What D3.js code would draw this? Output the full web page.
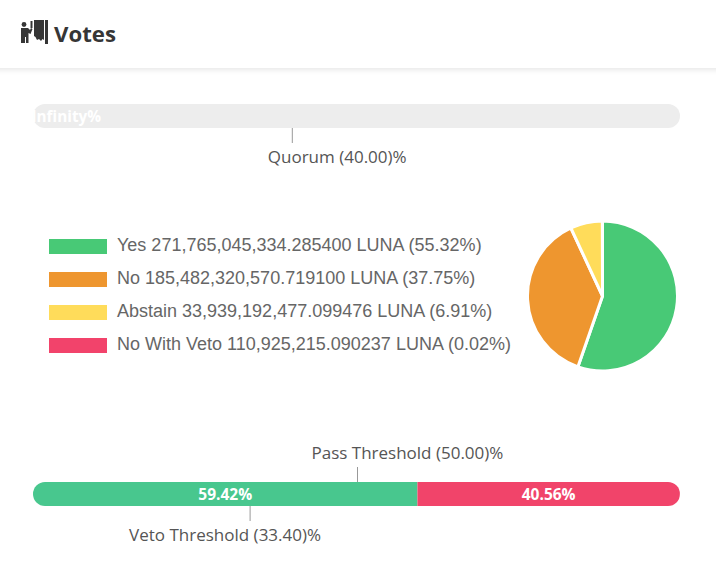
<!DOCTYPE html>
<html><head><meta charset="utf-8">
<script src="https://cdn.jsdelivr.net/npm/d3@7"></script>
<style>html,body{margin:0;padding:0;background:#fff;overflow:hidden}svg{display:block}</style>
</head><body><svg id="c" width="716" height="563"></svg>
<script>
const voteLabels = ["Yes 271,765,045,334.285400 LUNA (55.32%)","No 185,482,320,570.719100 LUNA (37.75%)","Abstain 33,939,192,477.099476 LUNA (6.91%)","No With Veto 110,925,215.090237 LUNA (0.02%)"];
const voteValues = [271765045334.2854,185482320570.7191,33939192477.099476,110925215.090237];
const voteColors = ["#48c976","#ee962f","#ffdc5a","#f2436b"];
const barValues = [59.42,40.56];
const barLabels = ["59.42%","40.56%"];
const barColors = ["#48c78e","#f1446a"];
const quorum = 40, pass = 50, veto = 33.4;

const svg = d3.select("#c");
const uiFont = "'Open Sans', Lato, sans-serif";
const defs = svg.append("defs");
const f = defs.append("filter").attr("id","sh").attr("x","-5%").attr("y","-20%").attr("width","110%").attr("height","150%");
f.append("feDropShadow").attr("dx",0).attr("dy",1).attr("stdDeviation",3).attr("flood-color","#000").attr("flood-opacity",.12);

svg.append("rect").attr("x",-10).attr("y",-10).attr("width",736).attr("height",78).attr("fill","#fff").attr("filter","url(#sh)");

// header icon
const ic = svg.append("g").attr("fill","#363636");
ic.append("circle").attr("cx",24).attr("cy",24.5).attr("r",2.4);
ic.append("path").attr("d","M21 28h7l2 2 1-2 1.5 1-2 5-2-1v10h-2.5v-6h-1v6h-2.5h-1.5z");
ic.append("rect").attr("x",30.5).attr("y",21).attr("width",2).attr("height",7);
ic.append("path").attr("d","M34 20h10v20l-1.5-1-1.5 2-2-2-2 1-1.5-3-1.5-1z");
ic.append("rect").attr("x",45).attr("y",20).attr("width",3).attr("height",24);
svg.append("text").attr("x",54).attr("y",41.5).attr("font-family",uiFont).attr("font-weight",700).attr("font-size",22.2).attr("fill","#363636").text("Votes");

const x = d3.scaleLinear().domain([0,100]).range([33,680]);
const barH = 24;

function clip(id,y){
  defs.append("clipPath").attr("id",id).append("rect").attr("x",x(0)).attr("y",y).attr("width",x(100)-x(0)).attr("height",barH).attr("rx",12);
}
clip("q",104); clip("b",482);
svg.append("rect").attr("x",x(0)).attr("y",104).attr("width",x(100)-x(0)).attr("height",barH).attr("rx",12).attr("fill","#ededed");
svg.append("text").attr("x",x(0)-1.5).attr("y",122).attr("font-family",uiFont).attr("font-weight",700).attr("font-size",15.3).attr("fill","#fff").text("Infinity%");

const labelStyle = s => s.attr("font-family",uiFont).attr("font-size",17).attr("fill","#555");
svg.append("line").attr("x1",x(quorum)+.5).attr("x2",x(quorum)+.5).attr("y1",128).attr("y2",143).attr("stroke","#999");
svg.append("text").attr("x",x(quorum)-24).attr("y",163).call(labelStyle).text(`Quorum (${quorum.toFixed(2)})%`);

// legend
const leg = svg.append("g").selectAll("g").data(voteLabels).join("g").attr("transform",(d,i)=>`translate(49,${239+i*33})`);
leg.append("rect").attr("width",58).attr("height",15).attr("fill",(d,i)=>voteColors[i]);
leg.append("text").attr("x",68).attr("y",12).attr("font-family","'Liberation Sans',Arial,sans-serif").attr("font-size",18).attr("fill","#666").text(d=>d);

// pie
const pie = d3.pie().sort(null)(voteValues);
const arc = d3.arc().innerRadius(0).outerRadius(75);
svg.append("g").attr("transform","translate(602.5,296)").selectAll("path").data(pie).join("path")
  .attr("d",arc).attr("fill",(d,i)=>voteColors[i]).attr("stroke","#fff").attr("stroke-width",3);

// result bar
svg.append("text").attr("x",x(pass)-45).attr("y",459).call(labelStyle).text(`Pass Threshold (${pass.toFixed(2)})%`);
svg.append("line").attr("x1",x(pass)+1).attr("x2",x(pass)+1).attr("y1",467).attr("y2",482).attr("stroke","#999");
let acc = 0;
const segs = barValues.map((v,i)=>{const s={v,i,a:acc};acc+=v;return s;});
const g = svg.append("g").attr("clip-path","url(#b)");
g.selectAll("rect").data(segs).join("rect").attr("x",d=>x(d.a)).attr("y",482).attr("width",d=>x(d.a+d.v)-x(d.a)).attr("height",barH).attr("fill",d=>barColors[d.i]);
svg.append("g").selectAll("text").data(segs).join("text").attr("x",d=>(x(d.a)+x(d.a+d.v))/2).attr("y",500).attr("text-anchor","middle")
  .attr("font-family",uiFont).attr("font-weight",700).attr("font-size",15.5).attr("fill","#fff").text(d=>barLabels[d.i]);
svg.append("line").attr("x1",x(veto)+1).attr("x2",x(veto)+1).attr("y1",506).attr("y2",521).attr("stroke","#999");
svg.append("text").attr("x",x(veto)-120).attr("y",541).call(labelStyle).text(`Veto Threshold (${veto.toFixed(2)})%`);
</script></body></html>
